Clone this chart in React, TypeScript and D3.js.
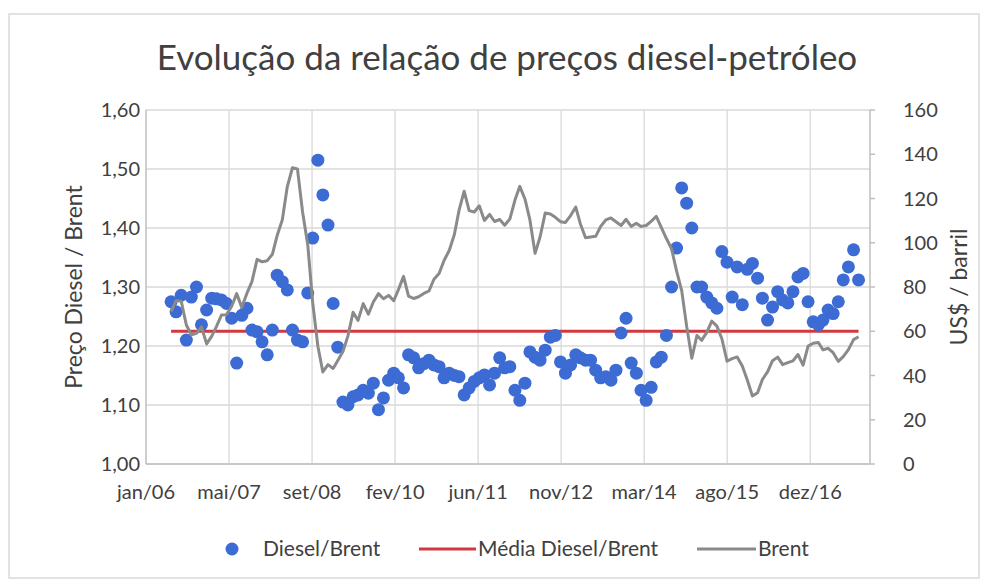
import React from 'react';
import * as d3 from 'd3';

// Data (monthly, jun/06 .. out/17)

const firstMonth = Date.UTC(2006, 5, 1);
const lastMonth = Date.UTC(2017, 9, 1);

const dieselBrent: number[] = [
    1.275, 1.258, 1.286, 1.21, 1.283, 1.30, 1.236,
    1.261, 1.281, 1.28, 1.278, 1.272, 1.247, 1.171, 1.252, 1.264, 1.227, 1.224, 1.207,
    1.185, 1.227, 1.32, 1.309, 1.295, 1.227, 1.21, 1.207, 1.29, 1.383, 1.515, 1.456,
    1.405, 1.272, 1.198, 1.105, 1.10, 1.114, 1.117, 1.125, 1.12, 1.137, 1.092, 1.112,
    1.142, 1.154, 1.146, 1.129, 1.185, 1.18, 1.163, 1.17, 1.176, 1.168, 1.165, 1.146,
    1.154, 1.15, 1.148, 1.117, 1.129, 1.14, 1.146, 1.151, 1.134, 1.154, 1.18, 1.163,
    1.165, 1.125, 1.108, 1.137, 1.19, 1.181, 1.176, 1.193, 1.215, 1.218, 1.173, 1.154,
    1.168, 1.185, 1.18, 1.176, 1.176, 1.159, 1.146, 1.148, 1.142, 1.159, 1.222, 1.247,
    1.171, 1.154, 1.125, 1.108, 1.13, 1.173, 1.181, 1.218, 1.30, 1.366, 1.468, 1.442,
    1.40, 1.30, 1.30, 1.283, 1.273, 1.264, 1.36, 1.342, 1.283, 1.334, 1.27, 1.33,
    1.34, 1.315, 1.281, 1.244, 1.266, 1.292, 1.278, 1.273, 1.292, 1.317, 1.323, 1.275,
    1.241, 1.236, 1.244, 1.261, 1.255, 1.275, 1.312, 1.334, 1.363, 1.312,
];

const brent: number[] = [
    68.9, 73.9, 73.6, 62.8, 58.4, 59.1, 62.0,
    54.3, 57.8, 62.1, 67.4, 67.5, 71.3, 77.0, 70.8, 77.2, 82.4, 92.5, 91.4,
    91.9, 94.8, 103.3, 110.4, 125.4, 133.9, 133.4, 113.9, 99.1, 72.8, 53.2, 41.6,
    44.9, 43.2, 46.8, 50.8, 57.9, 68.6, 64.9, 72.5, 67.7, 73.2, 77.0, 74.7,
    76.2, 73.8, 78.8, 84.8, 75.9, 74.8, 75.6, 77.1, 78.2, 83.5, 86.1, 92.0,
    96.5, 103.7, 114.6, 123.3, 114.5, 113.9, 116.7, 110.1, 112.8, 109.6, 110.5, 107.9,
    110.7, 119.3, 125.5, 119.8, 110.3, 95.2, 102.6, 113.4, 113.0, 111.5, 109.5, 109.2,
    112.3, 116.1, 108.5, 102.3, 102.6, 102.9, 107.4, 110.3, 111.2, 109.5, 107.8, 110.6,
    107.4, 108.8, 107.4, 107.8, 109.7, 111.9, 107.0, 101.9, 97.3, 87.3, 78.4, 62.2,
    47.8, 58.1, 55.9, 59.5, 64.6, 62.3, 56.6, 46.5, 47.6, 48.4, 44.3, 38.0,
    30.7, 32.2, 38.2, 41.6, 46.7, 48.3, 44.9, 45.8, 46.6, 49.5, 44.7, 53.3,
    54.6, 54.9, 51.6, 52.3, 50.3, 46.4, 48.5, 51.7, 56.2, 57.5,
];

const mediaDieselBrent = 1.225;

const xTickLabels = ['jan/06', 'mai/07', 'set/08', 'fev/10', 'jun/11', 'nov/12', 'mar/14', 'ago/15', 'dez/16'];
const leftTicks = [1.0, 1.1, 1.2, 1.3, 1.4, 1.5, 1.6];
const rightTicks = [0, 20, 40, 60, 80, 100, 120, 140, 160];

// Layout

const W = 988;
const H = 581;
const plot = { left: 146, right: 870, top: 110, bottom: 464 };
const font = 'Lato, "Open Sans", sans-serif';
const blue = '#3b6bd3';
const red = '#d0393f';
const gray = '#8a8a8a';
const gridColor = '#d9d9d9';
const textColor = '#404040';

function App() {
    const months = d3.utcMonth.range(firstMonth, d3.utcMonth.offset(lastMonth, 1));

    const axisStart = new Date(Date.UTC(2006, 0, 1));
    const x = d3.scaleUtc()
        .domain([axisStart, d3.utcDay.offset(axisStart, 4360)])
        .range([plot.left, plot.right]);
    const yLeft = d3.scaleLinear().domain([1, 1.6]).range([plot.bottom, plot.top]);
    const yRight = d3.scaleLinear().domain([0, 160]).range([plot.bottom, plot.top]);

    const xTicks = xTickLabels.map((label, i) => ({ label, date: d3.utcDay.offset(axisStart, i * 500) }));

    const brentLine = d3.line<number>()
        .x((_, i) => x(months[i]))
        .y((d) => yRight(d));

    const fmtLeft = (v: number) => v.toFixed(2).replace('.', ',');

    return (
        <svg width={W} height={H} style={{ position: 'absolute', left: 0, top: 0, background: '#fff' }} fontFamily={font}>
            <rect x={9} y={14} width={970} height={564} fill="#fff" stroke={gridColor} strokeWidth={1.5} />

            <text x={507} y={70} textAnchor="middle" fontSize={35} fill={textColor}>
                Evolução da relação de preços diesel-petróleo
            </text>

            {/* grid */}
            <g stroke={gridColor} strokeWidth={1.3}>
                {leftTicks.map((t) => (
                    <line key={'h' + t} x1={plot.left} x2={plot.right} y1={yLeft(t)} y2={yLeft(t)} />
                ))}
                {xTicks.slice(1).map((t) => (
                    <line key={'v' + t.label} x1={x(t.date)} x2={x(t.date)} y1={plot.top} y2={plot.bottom} />
                ))}
            </g>
            <g stroke="#bfbfbf" strokeWidth={1.5}>
                <line x1={plot.left} x2={plot.left} y1={plot.top} y2={plot.bottom} />
                <line x1={plot.right} x2={plot.right} y1={plot.top} y2={plot.bottom} />
                <line x1={plot.left} x2={plot.right} y1={plot.bottom} y2={plot.bottom} />
                {rightTicks.map((t) => (
                    <line key={'rt' + t} x1={plot.right} x2={plot.right + 5} y1={yRight(t)} y2={yRight(t)} />
                ))}
            </g>

            {/* axes labels */}
            <g fontSize={20} fill={textColor}>
                {leftTicks.map((t) => (
                    <text key={'l' + t} x={140} y={yLeft(t)} dy="0.35em" textAnchor="end">{fmtLeft(t)}</text>
                ))}
                {rightTicks.map((t) => (
                    <text key={'r' + t} x={903} y={yRight(t)} dy="0.35em" textAnchor="start">{t}</text>
                ))}
                {xTicks.map((t) => (
                    <text key={'x' + t.label} x={x(t.date)} y={499} textAnchor="middle">{t.label}</text>
                ))}
            </g>
            <text transform={`translate(82,${(plot.top + plot.bottom) / 2}) rotate(-90)`} textAnchor="middle" fontSize={23} fill={textColor}>
                Preço Diesel / Brent
            </text>
            <text transform={`translate(967,${(plot.top + plot.bottom) / 2}) rotate(-90)`} textAnchor="middle" fontSize={23} fill={textColor}>
                US$ / barril
            </text>

            {/* series */}
            <line x1={x(months[0])} x2={x(months[months.length - 1])} y1={yLeft(mediaDieselBrent)} y2={yLeft(mediaDieselBrent)}
                stroke={red} strokeWidth={3} />
            <g fill={blue}>
                {dieselBrent.map((d, i) => (
                    <circle key={i} cx={x(months[i])} cy={yLeft(d)} r={6.5} />
                ))}
            </g>
            <path d={brentLine(brent) || ''} fill="none" stroke={gray} strokeWidth={3} strokeLinejoin="round" />

            {/* legend */}
            <g fontSize={21} fill={textColor}>
                <circle cx={232} cy={549} r={6.5} fill={blue} />
                <text x={263} y={556}>Diesel/Brent</text>
                <line x1={419} x2={476} y1={549} y2={549} stroke={red} strokeWidth={3} />
                <text x={478} y={556}>Média Diesel/Brent</text>
                <line x1={697} x2={756} y1={549} y2={549} stroke={gray} strokeWidth={3} />
                <text x={758} y={556}>Brent</text>
            </g>
        </svg>
    );
}

export default App;
